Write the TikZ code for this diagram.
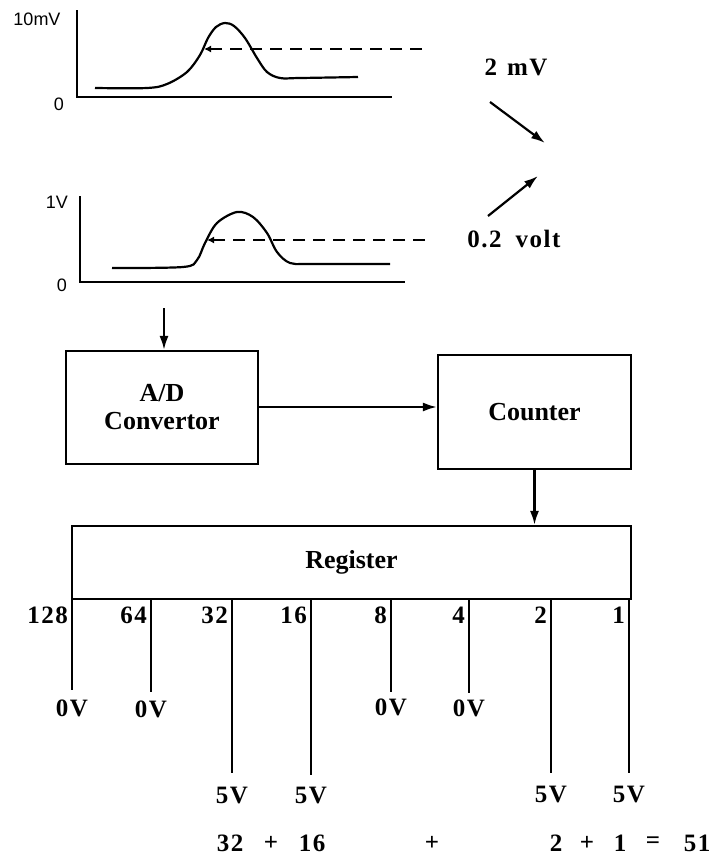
\documentclass[tikz,border=0pt]{standalone}
\usepackage{fontspec}
\setmainfont{Liberation Serif}
\newfontfamily\axisfont{Liberation Sans}
\newfontfamily\spacedfont[LetterSpace=6]{Liberation Serif}
\usetikzlibrary{arrows.meta,positioning,calc}

\tikzset{
  wire/.style={line width=2.2pt},
  arr/.style={wire, -{Latex[length=14pt,width=9pt]}},
  thresh/.style={line width=1.8pt, dash pattern=on 12pt off 8pt, -{Latex[length=7pt,width=7pt]}},
  blk/.style={draw, line width=2.2pt, inner sep=0pt, align=center, font=\fontsize{26}{28}\selectfont\bfseries},
  lab/.style={font=\spacedfont\bfseries\fontsize{25}{27}\selectfont, inner sep=0pt},
  axlab/.style={font=\axisfont\fontsize{18}{20}\selectfont, inner sep=0pt}
}

\begin{document}
\begin{tikzpicture}[x=1pt,y=-1pt]
\useasboundingbox (0,0) rectangle (718,857);

% mV trace
\draw[wire] (77,10) -- (77,97) -- (392,97);
\node[axlab] (mvtop) at (37,19) {10mV};
\node[axlab] (mvzero) at (59,104) {0};
\draw[wire] plot[smooth, tension=0.55] coordinates {(95,88) (147,88) (167,84) (187,72) (200,55) (208,38) (216,27) (225,23) (234,26) (245,38) (257,58) (267,72) (280,78) (300,78) (358,77)};
\coordinate (mvcut) at (204,49);
\coordinate (mvend) at (422,49);
\draw[thresh] (mvend) -- (mvcut);

% volt trace
\draw[wire] (80,196) -- (80,282) -- (405,282);
\node[axlab] (vtop) at (57,202) {1V};
\node[axlab] (vzero) at (62,285) {0};
\draw[wire] plot[smooth, tension=0.55] coordinates {(112,268) (183,267) (197,260) (205,243) (217,223) (237,212) (253,217) (267,233) (277,252) (290,263) (310,264) (390,264)};
\coordinate (vcut) at (207,240);
\coordinate (vend) at (425,240);
\draw[thresh] (vend) -- (vcut);

% thresholds
\node[lab] (mvth) at (516,67) {2\hspace{10pt}mV};
\node[lab] (vth) at (514,239) {0.2\hspace{14pt}volt};
\coordinate (mvfrom) at (490,102);
\coordinate (mvto) at (545,143);
\coordinate (vfrom) at (488,216);
\coordinate (vto) at (538,176);
\draw[arr] (mvfrom) -- (mvto);
\draw[arr] (vfrom) -- (vto);

% blocks
\node[blk, minimum width=192pt, minimum height=113pt] (adc) at (162,407.5) {A/D\\Convertor};
\node[blk, minimum width=193pt, minimum height=114pt] (counter) at (534.5,412) {Counter};
\node[blk, minimum width=559pt, minimum height=73pt] (register) at (351.5,562.5) {Register};

\coordinate (in) at (164,308);
\draw[arr] (in) -- (in |- adc.north);
\draw[arr] (adc.east |- 0,407) -- (counter.west |- 0,407);
\draw[arr] (counter.south) -- (register.north -| counter.south);

% outputs of the register
\foreach \v/\x/\e/\t/\ly in {128/72/690/0V/708, 64/151/692/0V/709, 32/232/773/5V/795, 16/311/775/5V/795, 8/391/692/0V/707, 4/469/693/0V/708, 2/551/773/5V/794, 1/629/773/5V/794}{
  \coordinate (b\v) at (\x,\e);
  \draw[wire] (register.south -| b\v) -- (b\v);
  \node[lab, anchor=north east] (n\v) at ([xshift=-4pt,yshift=-7pt]register.south -| b\v) {\v};
  \node[lab] (o\v) at (\x,\ly) {\t};
}

% sum
\foreach \s/\x [count=\i] in {32/230, +/271, 16/312, +/432, 2/556, +/587, 1/620, =/653, 51/697}{
  \node[lab] (s\i) at (\x,843) {\s};
}
\end{tikzpicture}
\end{document}
